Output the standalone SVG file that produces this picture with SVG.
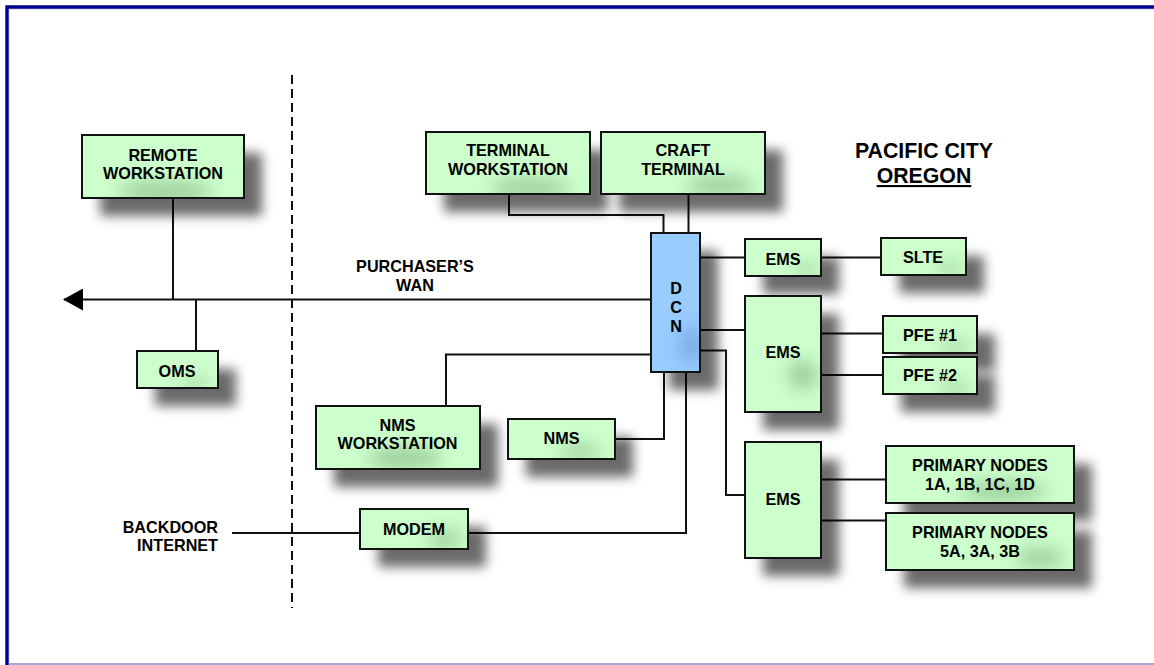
<svg xmlns="http://www.w3.org/2000/svg" width="1154" height="665" viewBox="0 0 1154 665">
<style>
text{font-family:"Liberation Sans",Arial,sans-serif;font-weight:bold;font-size:16.2px;fill:#000;text-anchor:middle}
.b{fill:#ccffcc}
.d{fill:#99ccff}
.o{fill:none;stroke:#111;stroke-width:2}
.s{fill:#000;opacity:.58;filter:url(#blur)}
.g{fill:#4f7f4f;opacity:.42;filter:url(#glow)}
.c{fill:none;stroke:#111;stroke-width:2}
.e{text-anchor:end}
.lg{font-size:21.3px}
</style>
<defs>
<filter id="blur" x="-40%" y="-60%" width="180%" height="220%"><feGaussianBlur stdDeviation="6"/></filter>
<filter id="glow" x="-80%" y="-150%" width="260%" height="400%"><feGaussianBlur stdDeviation="9"/></filter>
<marker id="arr" markerUnits="userSpaceOnUse" markerWidth="20" markerHeight="22" refX="19" refY="11" orient="auto"><path d="M0 0L20 11L0 22Z" fill="#000"/></marker>
<clipPath id="k1"><rect x="82" y="135" width="162" height="63"/></clipPath>
<clipPath id="k2"><rect x="137" y="351" width="81" height="37"/></clipPath>
<clipPath id="k3"><rect x="426" y="132" width="164" height="62"/></clipPath>
<clipPath id="k4"><rect x="601" y="132" width="164" height="62"/></clipPath>
<clipPath id="k5"><rect x="651" y="233" width="49" height="139"/></clipPath>
<clipPath id="k6"><rect x="745" y="239" width="76" height="37"/></clipPath>
<clipPath id="k7"><rect x="881" y="238" width="85" height="37"/></clipPath>
<clipPath id="k8"><rect x="745" y="296" width="76" height="116"/></clipPath>
<clipPath id="k9"><rect x="883" y="316" width="94" height="37"/></clipPath>
<clipPath id="k10"><rect x="883" y="357" width="94" height="37"/></clipPath>
<clipPath id="k12"><rect x="886" y="446" width="188" height="57"/></clipPath>
<clipPath id="k13"><rect x="886" y="513" width="188" height="57"/></clipPath>
<clipPath id="k14"><rect x="316" y="406" width="164" height="63"/></clipPath>
<clipPath id="k15"><rect x="508" y="419" width="107" height="40"/></clipPath>
<clipPath id="k16"><rect x="360" y="509" width="108" height="40"/></clipPath>
</defs>
<rect width="1154" height="665" fill="#fff"/>
<path d="M9 665V9H1154" fill="none" stroke="#d0d0f0" stroke-width="1"/>
<path d="M7 665V7H1154" fill="none" stroke="#000090" stroke-width="3.4"/>
<path d="M9 664H1154" fill="none" stroke="#8888cc" stroke-width="1.5"/>
<g id="connectors">
<path class="c" d="M173 198V299"/>
<path class="c" d="M651 299.500H64" marker-end="url(#arr)"/>
<path class="c" d="M196 299.500V351"/>
<path class="c" d="M292 75V608" stroke-dasharray="9 5"/>
<path class="c" d="M509 194V215H663.500V233"/>
<path class="c" d="M688.500 194V233"/>
<path class="c" d="M700 257.500H745"/>
<path class="c" d="M700 330H745"/>
<path class="c" d="M700 350.500H726V495H745"/>
<path class="c" d="M446 406V354.500H651"/>
<path class="c" d="M615 439H664V372"/>
<path class="c" d="M468 533H686V372"/>
<path class="c" d="M232 533H360"/>
<path class="c" d="M821 257.500H881"/>
<path class="c" d="M821 333.500H883"/>
<path class="c" d="M821 375H883"/>
<path class="c" d="M821 479.500H886"/>
<path class="c" d="M821 520.500H886"/>
</g>
<g id="remote"><rect class="s" x="100" y="153" width="162" height="63"/><rect class="b" x="82" y="135" width="162" height="63"/><g clip-path="url(#k1)"><ellipse class="g" cx="165" cy="192" rx="48" ry="10"/></g><rect class="o" x="82" y="135" width="162" height="63"/><text x="163" y="160.500">REMOTE</text><text x="163" y="178.500">WORKSTATION</text></g>
<g id="oms"><rect class="s" x="155" y="369" width="81" height="37"/><rect class="b" x="137" y="351" width="81" height="37"/><g clip-path="url(#k2)"><ellipse class="g" cx="195" cy="384" rx="12" ry="6"/></g><rect class="o" x="137" y="351" width="81" height="37"/><text x="177" y="377">OMS</text></g>
<g id="terminal"><rect class="s" x="444" y="150" width="164" height="62"/><rect class="b" x="426" y="132" width="164" height="62"/><g clip-path="url(#k3)"><ellipse class="g" cx="530" cy="188" rx="40" ry="9"/></g><rect class="o" x="426" y="132" width="164" height="62"/><text x="508" y="156">TERMINAL</text><text x="508" y="175">WORKSTATION</text></g>
<g id="craft"><rect class="s" x="619" y="150" width="164" height="62"/><rect class="b" x="601" y="132" width="164" height="62"/><g clip-path="url(#k4)"><ellipse class="g" cx="720" cy="186" rx="34" ry="9"/></g><rect class="o" x="601" y="132" width="164" height="62"/><text x="683" y="156">CRAFT</text><text x="683" y="175">TERMINAL</text></g>
<g id="dcn"><rect class="s" x="669" y="251" width="49" height="139"/><rect class="d" x="651" y="233" width="49" height="139"/><g clip-path="url(#k5)"><ellipse cx="692" cy="345" rx="12" ry="18" fill="#3d6fa8" opacity=".35" filter="url(#glow)"/></g><rect class="o" x="651" y="233" width="49" height="139"/><text x="676" y="294">D</text><text x="676" y="313">C</text><text x="676" y="332">N</text></g>
<g id="ems1"><rect class="s" x="763" y="257" width="76" height="37"/><rect class="b" x="745" y="239" width="76" height="37"/><g clip-path="url(#k6)"><ellipse class="g" cx="807" cy="270" rx="12" ry="6"/></g><rect class="o" x="745" y="239" width="76" height="37"/><text x="783" y="264.500">EMS</text></g>
<g id="slte"><rect class="s" x="899" y="256" width="85" height="37"/><rect class="b" x="881" y="238" width="85" height="37"/><g clip-path="url(#k7)"><ellipse class="g" cx="950" cy="269" rx="12" ry="6"/></g><rect class="o" x="881" y="238" width="85" height="37"/><text x="923" y="263">SLTE</text></g>
<g id="ems2"><rect class="s" x="763" y="314" width="76" height="116"/><rect class="b" x="745" y="296" width="76" height="116"/><g clip-path="url(#k8)"><ellipse class="g" cx="803" cy="375" rx="14" ry="14"/></g><rect class="o" x="745" y="296" width="76" height="116"/><text x="783" y="357.500">EMS</text></g>
<g id="pfe1"><rect class="s" x="901" y="334" width="94" height="37"/><rect class="b" x="883" y="316" width="94" height="37"/><g clip-path="url(#k9)"><ellipse class="g" cx="955" cy="348" rx="14" ry="6"/></g><rect class="o" x="883" y="316" width="94" height="37"/><text x="930" y="341">PFE #1</text></g>
<g id="pfe2"><rect class="s" x="901" y="375" width="94" height="37"/><rect class="b" x="883" y="357" width="94" height="37"/><g clip-path="url(#k10)"><ellipse class="g" cx="955" cy="389" rx="14" ry="6"/></g><rect class="o" x="883" y="357" width="94" height="37"/><text x="930" y="381">PFE #2</text></g>
<g id="ems3"><rect class="s" x="763" y="460" width="76" height="116"/><rect class="b" x="745" y="442" width="76" height="116"/><rect class="o" x="745" y="442" width="76" height="116"/><text x="783" y="505">EMS</text></g>
<g id="primary1"><rect class="s" x="904" y="464" width="188" height="57"/><rect class="b" x="886" y="446" width="188" height="57"/><g clip-path="url(#k12)"><ellipse class="g" cx="1003" cy="491" rx="44" ry="9"/></g><rect class="o" x="886" y="446" width="188" height="57"/><text x="980" y="471">PRIMARY NODES</text><text x="980" y="490">1A, 1B, 1C, 1D</text></g>
<g id="primary2"><rect class="s" x="904" y="531" width="188" height="57"/><rect class="b" x="886" y="513" width="188" height="57"/><g clip-path="url(#k13)"><ellipse class="g" cx="1040" cy="558" rx="24" ry="9"/></g><rect class="o" x="886" y="513" width="188" height="57"/><text x="980" y="538">PRIMARY NODES</text><text x="980" y="557">5A, 3A, 3B</text></g>
<g id="nmsws"><rect class="s" x="334" y="424" width="164" height="63"/><rect class="b" x="316" y="406" width="164" height="63"/><g clip-path="url(#k14)"><ellipse class="g" cx="405" cy="458" rx="38" ry="10"/></g><rect class="o" x="316" y="406" width="164" height="63"/><text x="397.500" y="431">NMS</text><text x="397.500" y="449">WORKSTATION</text></g>
<g id="nms"><rect class="s" x="526" y="437" width="107" height="40"/><rect class="b" x="508" y="419" width="107" height="40"/><g clip-path="url(#k15)"><ellipse class="g" cx="580" cy="452" rx="20" ry="7"/></g><rect class="o" x="508" y="419" width="107" height="40"/><text x="561.500" y="444">NMS</text></g>
<g id="modem"><rect class="s" x="378" y="527" width="108" height="40"/><rect class="b" x="360" y="509" width="108" height="40"/><g clip-path="url(#k16)"><ellipse class="g" cx="445" cy="539" rx="18" ry="8"/></g><rect class="o" x="360" y="509" width="108" height="40"/><text x="414" y="535">MODEM</text></g>
<text x="415" y="271.500">PURCHASER’S</text>
<text x="415" y="291">WAN</text>
<text class="e" x="218" y="533">BACKDOOR</text>
<text class="e" x="218" y="551">INTERNET</text>
<text class="lg" x="924" y="157.500">PACIFIC CITY</text>
<text class="lg" x="924" y="183" text-decoration="underline">OREGON</text>
</svg>
